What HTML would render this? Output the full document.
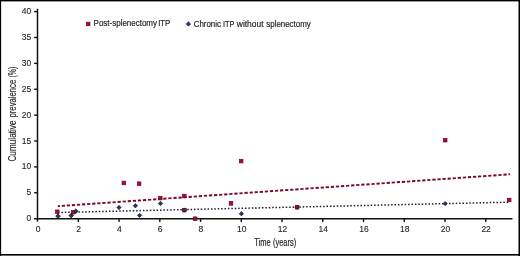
<!DOCTYPE html>
<html lang="en"><head><meta charset="utf-8"><title>Cumulative prevalence chart</title>
<style>html,body{margin:0;padding:0;background:#fff}body{width:520px;height:256px;overflow:hidden}svg{display:block}text{font-family:"Liberation Sans",Arial,Helvetica,sans-serif;fill:#231f20}</style></head><body>
<svg width="520" height="256" viewBox="0 0 520 256">
<rect x="0" y="0" width="520" height="256" fill="#fff"/>
<rect x="0" y="0" width="520" height="1.4" fill="#000"/>
<rect x="0" y="0" width="1.1" height="256" fill="#000"/>
<rect x="518.5" y="0" width="1.5" height="256" fill="#000"/>
<rect x="0" y="254" width="520" height="1.6" fill="#000"/>
<g stroke="#111" stroke-width="1.5" fill="none">
<line x1="37.5" y1="8.8" x2="37.5" y2="221.6"/>
<line x1="34.1" y1="218.65" x2="512.5" y2="218.65"/>
</g>
<g stroke="#111" stroke-width="1.4" fill="none">
<line x1="34.1" y1="192.77" x2="37.5" y2="192.77"/>
<line x1="34.1" y1="166.89" x2="37.5" y2="166.89"/>
<line x1="34.1" y1="141.01" x2="37.5" y2="141.01"/>
<line x1="34.1" y1="115.13" x2="37.5" y2="115.13"/>
<line x1="34.1" y1="89.25" x2="37.5" y2="89.25"/>
<line x1="34.1" y1="63.37" x2="37.5" y2="63.37"/>
<line x1="34.1" y1="37.49" x2="37.5" y2="37.49"/>
<line x1="34.1" y1="11.61" x2="37.5" y2="11.61"/>
<line x1="78.34" y1="218.65" x2="78.34" y2="222"/>
<line x1="119.08" y1="218.65" x2="119.08" y2="222"/>
<line x1="159.82" y1="218.65" x2="159.82" y2="222"/>
<line x1="200.56" y1="218.65" x2="200.56" y2="222"/>
<line x1="241.30" y1="218.65" x2="241.30" y2="222"/>
<line x1="282.04" y1="218.65" x2="282.04" y2="222"/>
<line x1="322.78" y1="218.65" x2="322.78" y2="222"/>
<line x1="363.52" y1="218.65" x2="363.52" y2="222"/>
<line x1="404.26" y1="218.65" x2="404.26" y2="222"/>
<line x1="445.00" y1="218.65" x2="445.00" y2="222"/>
<line x1="485.74" y1="218.65" x2="485.74" y2="222"/>
</g>
<g font-size="8.5" text-anchor="end" stroke="#231f20" stroke-width="0.12">
<text x="31.3" y="221.15">0</text>
<text x="31.3" y="195.27">5</text>
<text x="31.3" y="169.39">10</text>
<text x="31.3" y="143.51">15</text>
<text x="31.3" y="117.63">20</text>
<text x="31.3" y="91.75">25</text>
<text x="31.3" y="65.87">30</text>
<text x="31.3" y="39.99">35</text>
<text x="31.3" y="14.11">40</text>
</g>
<g font-size="8.5" text-anchor="middle" stroke="#231f20" stroke-width="0.12">
<text x="38.00" y="232.4">0</text>
<text x="78.74" y="232.4">2</text>
<text x="119.48" y="232.4">4</text>
<text x="160.22" y="232.4">6</text>
<text x="200.96" y="232.4">8</text>
<text x="241.70" y="232.4">10</text>
<text x="282.44" y="232.4">12</text>
<text x="323.18" y="232.4">14</text>
<text x="363.92" y="232.4">16</text>
<text x="404.66" y="232.4">18</text>
<text x="445.40" y="232.4">20</text>
<text x="486.14" y="232.4">22</text>
</g>
<text font-size="10.6" stroke="#231f20" stroke-width="0.2" y="246"><tspan x="254.2" textLength="16.4" lengthAdjust="spacingAndGlyphs">Time</tspan> <tspan x="273.1" textLength="23" lengthAdjust="spacingAndGlyphs">(years)</tspan></text>
<text font-size="10.5" stroke="#231f20" stroke-width="0.15" transform="translate(15.7 161.6) rotate(-90)"><tspan x="0" textLength="41.1" lengthAdjust="spacingAndGlyphs">Cumulative</tspan> <tspan x="44.1" textLength="37.7" lengthAdjust="spacingAndGlyphs">prevalence</tspan> <tspan x="84" textLength="11" lengthAdjust="spacingAndGlyphs">(%)</tspan></text>
<rect x="86.45" y="22.15" width="3.5" height="3.6" fill="#a20e31" stroke="#760720" stroke-width="0.7"/>
<text font-size="8.6" stroke="#231f20" stroke-width="0.18" y="26.4"><tspan x="93.6" textLength="63.4" lengthAdjust="spacingAndGlyphs">Post-splenectomy</tspan> <tspan x="158.2" textLength="12.1" lengthAdjust="spacingAndGlyphs">ITP</tspan></text>
<path d="M188.40 21.75L190.60 23.95L188.40 26.15L186.20 23.95Z" fill="#26355c" stroke="#121a30" stroke-width="0.6" stroke-linejoin="miter"/>
<text font-size="8.6" stroke="#231f20" stroke-width="0.18" y="26.5"><tspan x="193.7" textLength="27.3" lengthAdjust="spacingAndGlyphs">Chronic</tspan> <tspan x="223" textLength="11.4" lengthAdjust="spacingAndGlyphs">ITP</tspan> <tspan x="236.8" textLength="26.7" lengthAdjust="spacingAndGlyphs">without</tspan> <tspan x="266.3" textLength="44.4" lengthAdjust="spacingAndGlyphs">splenectomy</tspan></text>
<line x1="57.8" y1="206.2" x2="510.1" y2="174.3" stroke="#780b29" stroke-width="1.9" stroke-dasharray="3.25 1.84" stroke-dashoffset="1.18"/>
<line x1="58" y1="212.5" x2="510" y2="202.15" stroke="#141d36" stroke-width="1.5" stroke-dasharray="1.5 1.9"/>
<path d="M58.00 213.90L60.20 216.10L58.00 218.30L55.80 216.10Z" fill="#26355c" stroke="#121a30" stroke-width="0.6" stroke-linejoin="miter"/>
<path d="M71.25 213.30L73.45 215.50L71.25 217.70L69.05 215.50Z" fill="#26355c" stroke="#121a30" stroke-width="0.6" stroke-linejoin="miter"/>
<path d="M75.80 209.00L78.00 211.20L75.80 213.40L73.60 211.20Z" fill="#26355c" stroke="#121a30" stroke-width="0.6" stroke-linejoin="miter"/>
<path d="M119.00 205.30L121.20 207.50L119.00 209.70L116.80 207.50Z" fill="#26355c" stroke="#121a30" stroke-width="0.6" stroke-linejoin="miter"/>
<path d="M135.40 203.60L137.60 205.80L135.40 208.00L133.20 205.80Z" fill="#26355c" stroke="#121a30" stroke-width="0.6" stroke-linejoin="miter"/>
<path d="M139.60 213.20L141.80 215.40L139.60 217.60L137.40 215.40Z" fill="#26355c" stroke="#121a30" stroke-width="0.6" stroke-linejoin="miter"/>
<path d="M160.50 201.30L162.70 203.50L160.50 205.70L158.30 203.50Z" fill="#26355c" stroke="#121a30" stroke-width="0.6" stroke-linejoin="miter"/>
<path d="M241.40 211.50L243.60 213.70L241.40 215.90L239.20 213.70Z" fill="#26355c" stroke="#121a30" stroke-width="0.6" stroke-linejoin="miter"/>
<path d="M297.00 205.00L299.20 207.20L297.00 209.40L294.80 207.20Z" fill="#26355c" stroke="#121a30" stroke-width="0.6" stroke-linejoin="miter"/>
<path d="M445.20 201.40L447.40 203.60L445.20 205.80L443.00 203.60Z" fill="#26355c" stroke="#121a30" stroke-width="0.6" stroke-linejoin="miter"/>
<rect x="55.45" y="209.95" width="3.60" height="3.60" fill="#a20e31" stroke="#760720" stroke-width="0.7"/>
<rect x="71.60" y="210.40" width="3.60" height="3.60" fill="#a20e31" stroke="#760720" stroke-width="0.7"/>
<rect x="122.05" y="181.15" width="3.60" height="3.60" fill="#a20e31" stroke="#760720" stroke-width="0.7"/>
<rect x="137.30" y="181.90" width="3.60" height="3.60" fill="#a20e31" stroke="#760720" stroke-width="0.7"/>
<rect x="158.50" y="196.30" width="3.60" height="3.60" fill="#a20e31" stroke="#760720" stroke-width="0.7"/>
<rect x="182.50" y="194.20" width="3.60" height="3.60" fill="#a20e31" stroke="#760720" stroke-width="0.7"/>
<rect x="182.60" y="208.30" width="3.60" height="3.60" fill="#a20e31" stroke="#760720" stroke-width="0.7"/>
<rect x="193.30" y="216.90" width="3.60" height="3.60" fill="#a20e31" stroke="#760720" stroke-width="0.7"/>
<rect x="229.20" y="201.60" width="3.60" height="3.60" fill="#a20e31" stroke="#760720" stroke-width="0.7"/>
<rect x="239.40" y="159.30" width="3.60" height="3.60" fill="#a20e31" stroke="#760720" stroke-width="0.7"/>
<rect x="295.30" y="205.40" width="3.60" height="3.60" fill="#a20e31" stroke="#760720" stroke-width="0.7"/>
<rect x="443.40" y="138.40" width="3.60" height="3.60" fill="#a20e31" stroke="#760720" stroke-width="0.7"/>
<rect x="507.40" y="198.20" width="3.60" height="3.60" fill="#a20e31" stroke="#760720" stroke-width="0.7"/>
<path d="M184.50 207.90L186.70 210.10L184.50 212.30L182.30 210.10Z" fill="#26355c" stroke="#121a30" stroke-width="0.6" stroke-linejoin="miter" opacity="0.75"/>
<path d="M297.00 205.00L299.20 207.20L297.00 209.40L294.80 207.20Z" fill="#26355c" stroke="#121a30" stroke-width="0.6" stroke-linejoin="miter" opacity="0.3"/>
<path d="M71.25 213.30L73.45 215.50L71.25 217.70L69.05 215.50Z" fill="#26355c" stroke="#121a30" stroke-width="0.6" stroke-linejoin="miter" opacity="0.8"/>
<path d="M75.80 209.00L78.00 211.20L75.80 213.40L73.60 211.20Z" fill="#26355c" stroke="#121a30" stroke-width="0.6" stroke-linejoin="miter" opacity="0.8"/>
<path d="M58.00 213.90L60.20 216.10L58.00 218.30L55.80 216.10Z" fill="#26355c" stroke="#121a30" stroke-width="0.6" stroke-linejoin="miter" opacity="0.8"/>
</svg></body></html>
